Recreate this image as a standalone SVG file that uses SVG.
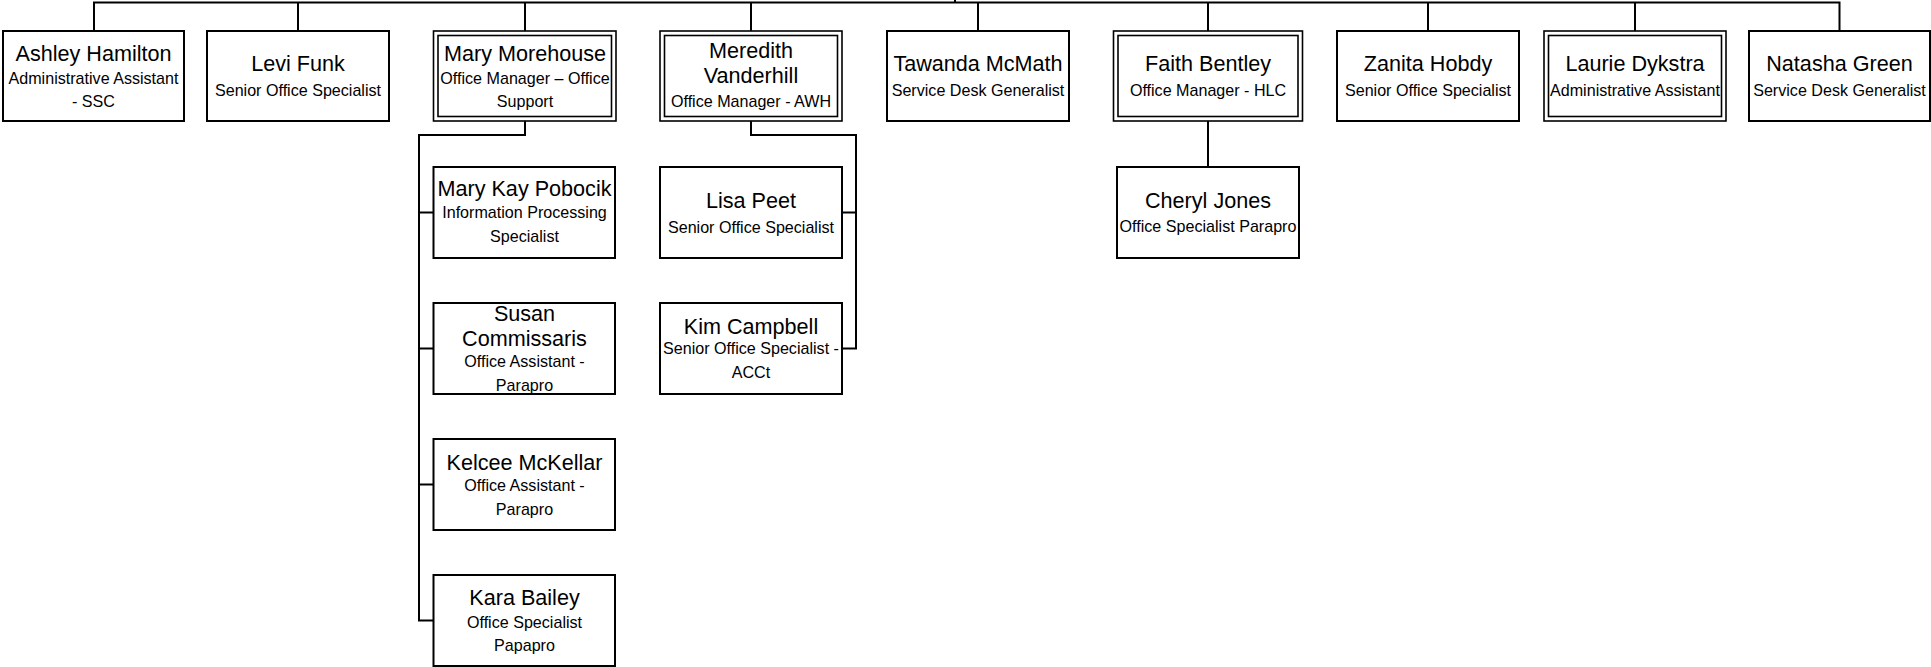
<svg xmlns="http://www.w3.org/2000/svg" width="1931" height="667" viewBox="0 0 1931 667">
<style>
.box{fill:#fff;stroke:#000;stroke-width:2}
.out{fill:#fff;stroke:#000;stroke-width:1.6}
.inn{fill:none;stroke:#000;stroke-width:1.6}
.conn{fill:none;stroke:#000;stroke-width:2}
text{font-family:"Liberation Sans",Arial,sans-serif;text-anchor:middle;fill:#000}
.nm{font-size:21.6px}
.sb{font-size:16.1px}
</style>
<rect width="1931" height="667" fill="#fff"/>
<g id="connectors">
<path class="conn" d="M955,0 V2.5 M94,31 V2.5 H1839.5 V31 M298,2.5 V31 M525,2.5 V31 M751,2.5 V31 M978,2.5 V31 M1208,2.5 V31 M1428,2.5 V31 M1635,2.5 V31"/>
<path class="conn" d="M525,121 V135 H419 V620.5 H433 M419,212.5 H433 M419,348.5 H433 M419,484.5 H433"/>
<path class="conn" d="M751,121 V135 H856 V348.5 H842 M856,212.5 H842"/>
<path class="conn" d="M1208,121 V167"/>
</g>
<g id="ashley">
<rect class="box" x="3" y="31" width="181" height="90"/>
<text class="nm" x="93.5" y="60.5">Ashley Hamilton</text>
<text class="sb" x="93.5" y="83.5">Administrative Assistant</text>
<text class="sb" x="93.5" y="106.5">- SSC</text>
</g>
<g id="levi">
<rect class="box" x="207" y="31" width="182" height="90"/>
<text class="nm" x="298" y="71">Levi Funk</text>
<text class="sb" x="298" y="96">Senior Office Specialist</text>
</g>
<g id="mary">
<rect class="out" x="433.5" y="31" width="182.5" height="90"/>
<rect class="inn" x="438" y="35.5" width="173.5" height="81"/>
<text class="nm" x="525" y="61">Mary Morehouse</text>
<text class="sb" x="525" y="84">Office Manager – Office</text>
<text class="sb" x="525" y="107">Support</text>
</g>
<g id="meredith">
<rect class="out" x="660" y="31" width="182" height="90"/>
<rect class="inn" x="664.5" y="35.5" width="173" height="81"/>
<text class="nm" x="751" y="58">Meredith</text>
<text class="nm" x="751" y="83">Vanderhill</text>
<text class="sb" x="751" y="107">Office Manager - AWH</text>
</g>
<g id="tawanda">
<rect class="box" x="887" y="31" width="182" height="90"/>
<text class="nm" x="978" y="71">Tawanda McMath</text>
<text class="sb" x="978" y="96">Service Desk Generalist</text>
</g>
<g id="faith">
<rect class="out" x="1113.5" y="31" width="189" height="90"/>
<rect class="inn" x="1118" y="35.5" width="180" height="81"/>
<text class="nm" x="1208" y="71">Faith Bentley</text>
<text class="sb" x="1208" y="96">Office Manager - HLC</text>
</g>
<g id="zanita">
<rect class="box" x="1337" y="31" width="182" height="90"/>
<text class="nm" x="1428" y="71">Zanita Hobdy</text>
<text class="sb" x="1428" y="96">Senior Office Specialist</text>
</g>
<g id="laurie">
<rect class="out" x="1544" y="31" width="182" height="90"/>
<rect class="inn" x="1548.5" y="35.5" width="173" height="81"/>
<text class="nm" x="1635" y="71">Laurie Dykstra</text>
<text class="sb" x="1635" y="96">Administrative Assistant</text>
</g>
<g id="natasha">
<rect class="box" x="1749" y="31" width="181" height="90"/>
<text class="nm" x="1839.5" y="71">Natasha Green</text>
<text class="sb" x="1839.5" y="96">Service Desk Generalist</text>
</g>
<g id="marykay">
<rect class="box" x="433.5" y="167" width="181.5" height="91"/>
<text class="nm" x="524.5" y="196">Mary Kay Pobocik</text>
<text class="sb" x="524.5" y="217.5">Information Processing</text>
<text class="sb" x="524.5" y="242">Specialist</text>
</g>
<g id="susan">
<rect class="box" x="433.5" y="303" width="181.5" height="91"/>
<text class="nm" x="524.5" y="321">Susan</text>
<text class="nm" x="524.5" y="345.5">Commissaris</text>
<text class="sb" x="524.5" y="367">Office Assistant -</text>
<text class="sb" x="524.5" y="390.5">Parapro</text>
</g>
<g id="kelcee">
<rect class="box" x="433.5" y="439" width="181.5" height="91"/>
<text class="nm" x="524.5" y="470">Kelcee McKellar</text>
<text class="sb" x="524.5" y="491">Office Assistant -</text>
<text class="sb" x="524.5" y="515">Parapro</text>
</g>
<g id="kara">
<rect class="box" x="433.5" y="575" width="181.5" height="91"/>
<text class="nm" x="524.5" y="605">Kara Bailey</text>
<text class="sb" x="524.5" y="627.5">Office Specialist</text>
<text class="sb" x="524.5" y="650.5">Papapro</text>
</g>
<g id="lisa">
<rect class="box" x="660" y="167" width="182" height="91"/>
<text class="nm" x="751" y="207.5">Lisa Peet</text>
<text class="sb" x="751" y="232.5">Senior Office Specialist</text>
</g>
<g id="kim">
<rect class="box" x="660" y="303" width="182" height="91"/>
<text class="nm" x="751" y="333.5">Kim Campbell</text>
<text class="sb" x="751" y="353.5">Senior Office Specialist -</text>
<text class="sb" x="751" y="377.5">ACCt</text>
</g>
<g id="cheryl">
<rect class="box" x="1117" y="167" width="182" height="91"/>
<text class="nm" x="1208" y="207.5">Cheryl Jones</text>
<text class="sb" x="1208" y="232">Office Specialist Parapro</text>
</g>
</svg>
